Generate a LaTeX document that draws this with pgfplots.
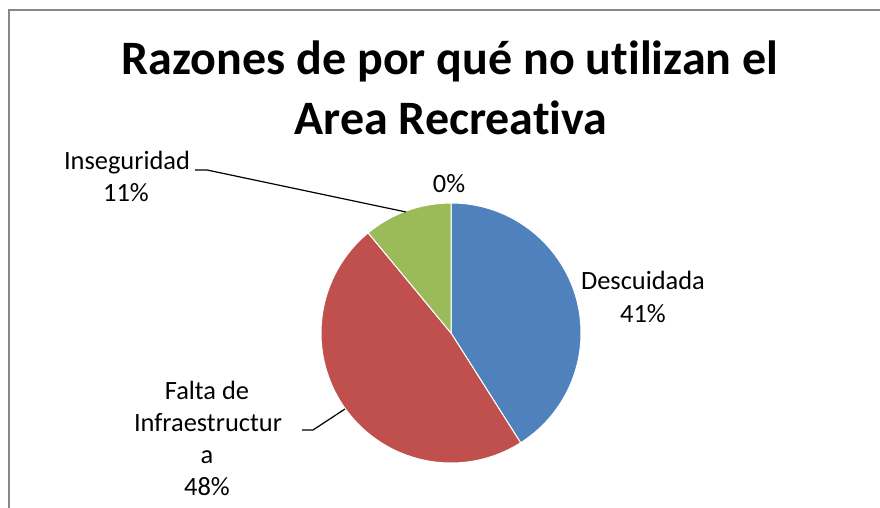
\documentclass[border=0pt]{standalone}
\usepackage{pgfplots}
\pgfplotsset{compat=1.18}
\usepackage{pgfplotstable}
\usepackage{fontspec}
\setmainfont{Carlito}[Ligatures=NoCommon]
\definecolor{cblue}{HTML}{4F81BD}
\definecolor{cred}{HTML}{C0504D}
\definecolor{cgreen}{HTML}{9BBB59}
\definecolor{cframe}{HTML}{878787}
\tikzset{lbl/.style={anchor=base, inner sep=0pt, font=\fontsize{13.2}{16}\selectfont}}

\pgfplotstableread{
label value
Descuidada 41
Falta 48
Inseguridad 11
Otro 0
}\piedata

\begin{document}
\begin{tikzpicture}
\pgfplotstablegetelem{0}{value}\of\piedata \let\va\pgfplotsretval
\pgfplotstablegetelem{1}{value}\of\piedata \let\vb\pgfplotsretval
\pgfplotstablegetelem{2}{value}\of\piedata \let\vc\pgfplotsretval
\pgfmathsetmacro\aA{90}
\pgfmathsetmacro\aB{90-3.6*\va}
\pgfmathsetmacro\aC{\aB-3.6*\vb}
\pgfmathsetmacro\aD{\aC-3.6*\vc}
\begin{axis}[
  width=440pt, height=254pt, scale only axis,
  xmin=0, xmax=880, ymin=0, ymax=508,
  hide axis, clip=false,
]
\coordinate (bl) at (axis cs:0,0);
\coordinate (tr) at (axis cs:880,508);
% frame
\draw[cframe, line width=0.75pt] (axis cs:9,0) -- (axis cs:9,498) -- (axis cs:880,498);
% title
\node[anchor=base, inner sep=0pt, font=\fontsize{24}{30}\selectfont\bfseries] at (axis cs:450,433) {Razones de por qué no utilizan el};
\node[anchor=base, inner sep=0pt, font=\fontsize{24}{30}\selectfont\bfseries] at (axis cs:451,373) {Area Recreativa};
% wedges
\fill[cblue, draw=white, line width=0.5pt] (axis cs:451,175) -- ++(\aA:65pt) arc[start angle=\aA, end angle=\aB, radius=65pt] -- cycle;
\fill[cred, draw=white, line width=0.5pt] (axis cs:451,175) -- ++(\aB:65pt) arc[start angle=\aB, end angle=\aC, radius=65pt] -- cycle;
\fill[cgreen, draw=white, line width=0.5pt] (axis cs:451,175) -- ++(\aC:65pt) arc[start angle=\aC, end angle=\aD, radius=65pt] -- cycle;
% leader lines
\draw[black, line width=0.6pt] (axis cs:195,338) -- (axis cs:207,338) -- (axis cs:406,296);
\draw[black, line width=0.6pt] (axis cs:302,78) -- (axis cs:313,78) -- (axis cs:345,99);
% labels
\node[lbl] at (axis cs:643,218) {Descuidada};
\node[lbl] at (axis cs:643,185) {41\%};
\node[lbl] at (axis cs:127,338) {Inseguridad};
\node[lbl] at (axis cs:126,306) {11\%};
\node[lbl] at (axis cs:449,315) {0\%};
\node[lbl] at (axis cs:207,108) {Falta de};
\node[lbl] at (axis cs:208,76) {Infraestructur};
\node[lbl] at (axis cs:207,44) {a};
\node[lbl] at (axis cs:207,12) {48\%};
\end{axis}
\pgfresetboundingbox
\path (bl) rectangle (tr);
\end{tikzpicture}
\end{document}
